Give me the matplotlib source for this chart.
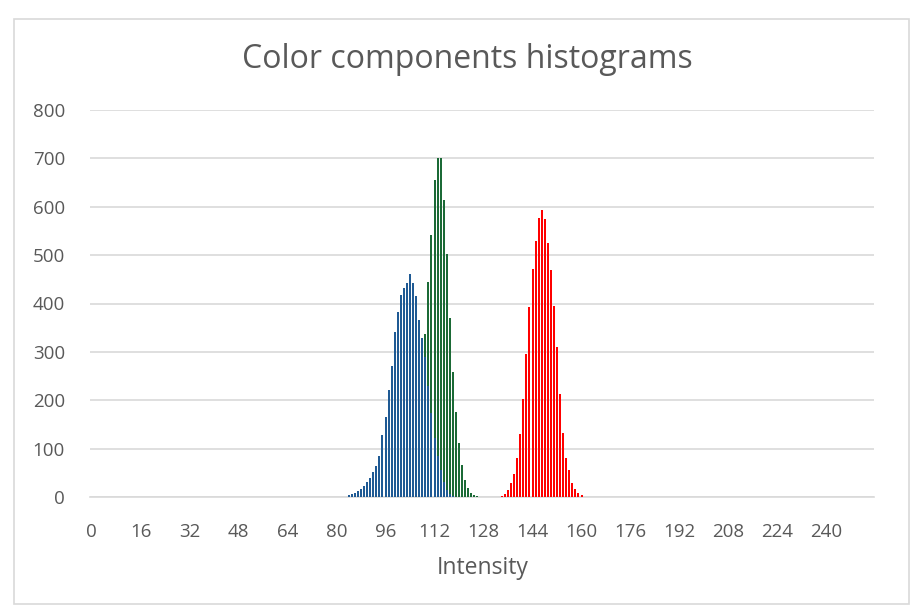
import numpy as np
import matplotlib
matplotlib.use("Agg")
import matplotlib.pyplot as plt
from matplotlib.patches import Rectangle

# Histogram counts (intensity -> count), zero elsewhere
blue_start = 84
blue_counts = [4, 6, 9, 12, 16, 22, 30, 40, 52, 65, 85, 128, 165, 221, 270,
               342, 383, 417, 433, 443, 461, 443, 415, 366, 328, 290, 230,
               173, 122, 85, 56, 30, 15, 6, 2]
green_start = 100
green_counts = [2, 4, 8, 15, 28, 50, 90, 150, 240, 337, 445, 541, 655, 700,
                701, 614, 502, 370, 258, 176, 112, 66, 35, 19, 8, 4, 2]
red_start = 133
red_counts = [1, 3, 7, 14, 29, 48, 81, 130, 202, 296, 393, 471, 529, 576, 593,
              574, 525, 469, 395, 310, 213, 132, 81, 56, 29, 16, 8, 4, 1]

x_ticks = list(range(0, 256, 16))
y_ticks = list(range(0, 801, 100))

plt.rcParams['font.family'] = ['Open Sans', 'DejaVu Sans']

fig = plt.figure(figsize=(9.13, 6.10), dpi=100)
border = Rectangle((14 / 913, 0.01), 895 / 913, 1 - 19 / 610 - 0.01,
                   transform=fig.transFigure, facecolor='none',
                   edgecolor='#d9d9d9', linewidth=1.2, zorder=-10)
fig.patches.append(border)
ax = fig.add_axes([90 / 913, 1 - 497 / 610, 784 / 913, 387 / 610])
ax.set_facecolor('none')


def full(start, counts):
    vals = np.zeros(256)
    vals[start:start + len(counts)] = counts
    return vals


xs = np.arange(256)
ax.bar(xs, full(red_start, red_counts), width=0.65, color='#ff0000', zorder=3)
ax.bar(xs, full(green_start, green_counts), width=0.65, color='#1b6a36', zorder=3)
ax.bar(xs, full(blue_start, blue_counts), width=0.65, color='#1f5a94', zorder=3)

ax.set_xlim(-0.5, 255.5)
ax.set_ylim(0, 800)
ax.set_xticks(x_ticks)
ax.set_xticklabels([str(t) for t in x_ticks])
ax.set_yticks(y_ticks)
ax.tick_params(axis='both', length=0, labelsize=13.5, colors='#595959')
ax.tick_params(axis='x', pad=19)
ax.tick_params(axis='y', pad=18)
ax.grid(axis='y', color='#d9d9d9', linewidth=1.2, zorder=0)
for side in ['top', 'right', 'left']:
    ax.spines[side].set_visible(False)
ax.spines['bottom'].set_color('#d9d9d9')
ax.spines['bottom'].set_linewidth(1.2)

fig.text(467 / 913, 1 - 59 / 610, 'Color components histograms', ha='center', va='center',
         fontsize=23, color='#595959')
fig.text(483 / 913, 1 - 568 / 610, 'Intensity', ha='center', va='center',
         fontsize=16.5, color='#595959')

fig.savefig('out.png', dpi=100)
